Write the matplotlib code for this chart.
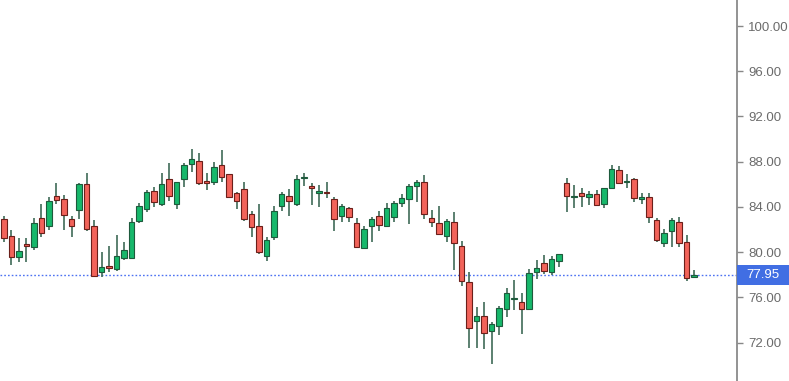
import matplotlib
matplotlib.use("Agg")
import matplotlib.pyplot as plt
from matplotlib.patches import Rectangle
import numpy as np

# OHLC, one entry per session
opens = [82.94, 81.46, 79.55, 80.70, 80.49, 83.00, 82.32, 85.00, 84.70, 82.94,
         83.73, 86.03, 82.34, 78.22, 78.81, 78.49, 79.53, 79.51, 82.79, 83.82,
         85.44, 84.24, 86.45, 84.24, 86.45, 87.80, 88.09, 86.32, 86.23, 87.71,
         86.89, 85.26, 85.57, 83.38, 82.34, 79.69, 81.32, 84.08, 85.00, 84.24,
         86.53, 85.88, 85.23, 85.35, 84.68, 83.23, 83.88, 82.61, 80.34, 82.34,
         83.23, 82.34, 83.09, 84.32, 84.68, 85.88, 86.23, 83.00, 82.61, 81.43,
         82.70, 80.57, 77.34, 73.94, 74.39, 73.03, 73.47, 74.95, 75.84, 75.57,
         74.98, 78.22, 79.02, 78.25, 79.24, 86.09, 84.85, 85.26, 84.91, 85.15,
         84.24, 85.65, 87.27, 86.18, 86.47, 84.73, 84.91, 82.85, 80.79, 81.87,
         82.70, 80.88, 77.80]
highs = [83.23, 81.96, 81.23, 81.23, 83.05, 84.26, 84.85, 86.15, 85.06, 83.20,
         86.12, 87.03, 82.85, 80.04, 80.57, 81.52, 80.93, 83.00, 84.32, 85.50,
         85.74, 86.98, 87.91, 86.23, 87.86, 89.12, 88.80, 86.98, 87.95, 89.04,
         86.91, 85.30, 86.23, 83.67, 84.26, 81.32, 84.11, 85.35, 85.59, 86.83,
         87.03, 86.15, 85.94, 86.23, 84.91, 84.26, 84.02, 83.00, 82.34, 83.09,
         83.67, 84.32, 84.55, 85.15, 86.03, 86.38, 86.83, 83.73, 84.08, 82.91,
         83.58, 80.96, 78.28, 75.18, 75.62, 73.85, 75.24, 76.81, 77.54, 76.37,
         78.49, 79.31, 79.75, 79.66, 79.88, 86.53, 85.94, 85.65, 85.44, 85.50,
         85.72, 87.71, 87.65, 86.91, 86.53, 85.26, 85.26, 83.00, 82.05, 83.05,
         83.14, 81.52, 78.40]
lows = [80.93, 78.87, 79.11, 79.11, 80.19, 81.37, 81.96, 84.26, 81.96, 81.37,
        82.94, 81.90, 77.83, 77.83, 78.22, 78.36, 79.31, 79.46, 82.56, 83.58,
        83.97, 84.11, 84.53, 83.82, 85.74, 87.06, 85.94, 85.50, 85.94, 86.23,
        84.77, 83.82, 82.79, 81.32, 79.84, 79.25, 81.08, 83.67, 83.20, 84.08,
        85.88, 84.17, 83.97, 84.77, 81.90, 82.64, 82.64, 80.40, 80.30, 80.88,
        81.87, 82.25, 82.70, 84.02, 82.47, 84.41, 82.94, 82.20, 81.55, 80.88,
        78.43, 76.98, 71.50, 71.56, 71.41, 70.11, 72.68, 74.30, 74.89, 72.77,
        74.95, 77.63, 78.07, 77.98, 78.66, 83.58, 83.93, 84.02, 84.17, 84.15,
        83.88, 85.59, 86.03, 85.65, 84.41, 84.24, 82.56, 80.93, 80.49, 80.49,
        80.49, 77.48, 77.75]
closes = [81.28, 79.55, 80.13, 80.55, 82.56, 81.67, 84.55, 84.62, 83.29, 82.32,
          86.03, 82.02, 77.90, 78.72, 78.58, 79.69, 80.15, 82.70, 84.11, 85.30,
          84.41, 86.03, 85.00, 86.18, 87.71, 88.21, 86.09, 86.09, 87.56, 86.68,
          84.85, 84.55, 82.91, 82.20, 79.99, 81.08, 83.67, 85.15, 84.53, 86.45,
          86.68, 85.65, 85.44, 85.21, 82.94, 84.11, 83.09, 80.43, 82.02, 82.91,
          82.41, 83.88, 84.38, 84.82, 85.88, 86.23, 83.35, 82.64, 81.58, 82.76,
          80.79, 77.45, 73.27, 74.39, 72.83, 73.62, 75.04, 76.37, 75.92, 74.98,
          78.13, 78.63, 78.34, 79.37, 79.82, 84.97, 85.00, 84.97, 85.12, 84.17,
          85.70, 87.36, 86.09, 86.32, 84.77, 84.82, 83.09, 81.08, 81.67, 82.85,
          80.79, 77.69, 77.95]

yticks = [72, 76, 80, 84, 88, 92, 96, 100]
last_price = 77.95

up_fill, up_edge = "#17b86b", "#1e5a3c"
dn_fill, dn_edge = "#f2635a", "#6b1f1a"
wick_col = "#3f6b58"

o = np.array(opens)
h = np.array(highs)
l = np.array(lows)
c = np.array(closes)
x = np.arange(len(o))
up = c >= o

fig = plt.figure(figsize=(7.89, 3.81), dpi=100)
ax = fig.add_axes([0, 0, 737 / 789, 1])

ax.vlines(x, l, h, color=wick_col, linewidth=1.2, zorder=2)
body_lo = np.minimum(o, c)
body_h = np.maximum(np.abs(c - o), 0.12)
ax.bar(x[up], body_h[up], bottom=body_lo[up], width=0.78,
       color=up_fill, edgecolor=up_edge, linewidth=0.8, zorder=3)
ax.bar(x[~up], body_h[~up], bottom=body_lo[~up], width=0.78,
       color=dn_fill, edgecolor=dn_edge, linewidth=0.8, zorder=3)

# last price line + tag on the axis
ax.axhline(last_price, color="#4d72f2", linewidth=1.0, linestyle=(0, (1.2, 1.5)), zorder=1)
ax.add_patch(Rectangle((1.0, last_price - 0.88), 52 / 737, 1.76,
                       transform=ax.get_yaxis_transform(), clip_on=False,
                       facecolor="#416ee3", edgecolor="none", zorder=5))
ax.text(1.0 + 9 / 737, last_price, f"{last_price:.2f}", transform=ax.get_yaxis_transform(),
        ha="left", va="center", color="white", fontsize=9.5, family="Liberation Sans", zorder=6)

ax.set_xlim(-0.533, 97.73)
ax.set_ylim(68.61, 102.30)
ax.set_xticks([])
ax.yaxis.tick_right()
ax.set_yticks(yticks)
ax.set_yticklabels([f"{t:.2f}" for t in yticks], family="Liberation Sans", fontsize=9.5, color="#6b6b6b")
ax.tick_params(axis="y", length=4, width=1, color="#888888", pad=4)
for s in ["top", "left", "bottom"]:
    ax.spines[s].set_visible(False)
ax.spines["right"].set_color("#8a8a8a")
ax.spines["right"].set_linewidth(1.3)

fig.savefig("out.png", dpi=100)
